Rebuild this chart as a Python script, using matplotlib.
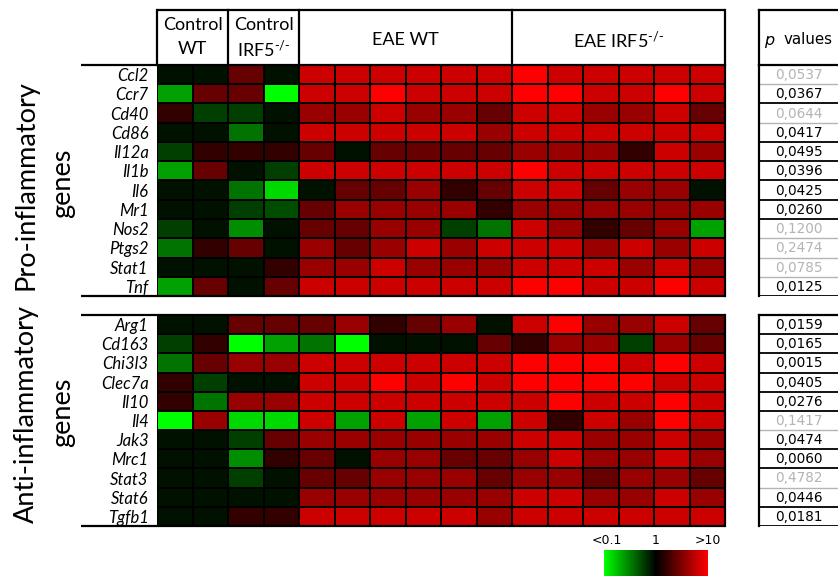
import numpy as np
import matplotlib
matplotlib.use("Agg")
import matplotlib.pyplot as plt
from matplotlib.colors import LinearSegmentedColormap

W, H = 838, 576

# ---- data: log10 fold change relative to control WT mean ----
groups = ["Control\nWT", "Control\nIRF5$^{\\text{-/-}}$", "EAE WT", "EAE IRF5$^{\\text{-/-}}$"]
group_sizes = [2, 2, 6, 6]

pro_genes = ["Ccl2", "Ccr7", "Cd40", "Cd86", "Il12a", "Il1b", "Il6", "Mr1",
             "Nos2", "Ptgs2", "Stat1", "Tnf"]
pro_log10_fc = [
    [-0.07, -0.07, 0.4, -0.07, 0.8, 0.8, 0.8, 0.8, 0.8, 0.8, 1.0, 0.8, 0.8, 0.8, 0.8, 0.8],
    [-0.63, 0.4, 0.4, -1.0, 0.8, 0.8, 1.0, 0.8, 0.8, 0.8, 1.0, 1.0, 0.8, 0.8, 1.0, 0.8],
    [0.2, -0.25, -0.25, -0.07, 0.6, 0.6, 0.8, 0.6, 0.6, 0.4, 0.8, 0.8, 0.6, 0.6, 0.8, 0.4],
    [-0.07, -0.07, -0.45, -0.07, 0.8, 0.8, 0.8, 0.8, 0.8, 0.6, 0.8, 0.8, 0.8, 0.8, 0.8, 0.8],
    [-0.25, 0.2, 0.2, 0.2, 0.4, -0.07, 0.4, 0.4, 0.4, 0.4, 0.6, 0.6, 0.6, 0.2, 0.8, 0.6],
    [-0.63, 0.4, -0.07, -0.25, 0.8, 0.8, 0.8, 0.8, 0.8, 0.8, 1.0, 0.8, 0.8, 0.8, 0.8, 0.8],
    [-0.07, -0.07, -0.45, -0.85, -0.07, 0.4, 0.4, 0.6, 0.2, 0.4, 0.8, 0.8, 0.4, 0.6, 0.6, -0.07],
    [-0.07, -0.07, -0.25, -0.3, 0.4, 0.6, 0.6, 0.6, 0.6, 0.2, 0.6, 0.6, 0.6, 0.6, 0.6, 0.6],
    [-0.25, -0.07, -0.55, -0.07, 0.4, 0.4, 0.6, 0.6, -0.25, -0.45, 0.8, 0.6, 0.2, 0.4, 0.6, -0.63],
    [-0.45, 0.2, 0.4, -0.07, 0.6, 0.4, 0.6, 0.8, 0.6, 0.8, 0.8, 0.8, 0.6, 0.8, 0.6, 0.8],
    [-0.07, -0.07, -0.07, 0.2, 0.6, 0.6, 0.8, 0.6, 0.6, 0.6, 0.8, 0.8, 0.8, 0.6, 0.8, 0.6],
    [-0.63, 0.4, -0.07, 0.4, 0.8, 0.8, 0.8, 0.8, 0.8, 0.8, 1.0, 1.0, 0.8, 0.8, 1.0, 0.8],
]
pro_pvalues = [0.0537, 0.0367, 0.0644, 0.0417, 0.0495, 0.0396, 0.0425, 0.0260,
               0.1200, 0.2474, 0.0785, 0.0125]

anti_genes = ["Arg1", "Cd163", "Chi3l3", "Clec7a", "Il10", "Il4", "Jak3", "Mrc1",
              "Stat3", "Stat6", "Tgfb1"]
anti_log10_fc = [
    [-0.07, -0.07, 0.4, 0.4, 0.4, 0.6, 0.2, 0.4, 0.6, -0.07, 0.8, 1.0, 0.6, 0.6, 0.8, 0.4],
    [-0.25, 0.2, -1.0, -0.63, -0.45, -1.0, -0.07, -0.07, -0.07, 0.4, 0.2, 0.6, 0.6, -0.25, 0.6, 0.4],
    [-0.45, 0.4, 0.6, 0.6, 0.8, 0.8, 0.8, 0.8, 0.8, 0.8, 1.0, 1.0, 1.0, 0.8, 1.0, 0.8],
    [0.2, -0.25, -0.07, -0.07, 0.8, 0.8, 1.0, 0.8, 1.0, 0.8, 1.0, 1.0, 1.0, 1.0, 0.8, 0.8],
    [0.2, -0.45, 0.6, 0.6, 0.8, 0.8, 0.8, 0.8, 0.8, 0.8, 0.8, 1.0, 0.8, 0.8, 1.0, 0.8],
    [-1.0, 0.6, -0.85, -0.85, 0.8, -0.63, 0.8, -0.63, 0.8, -0.63, 0.8, 0.2, 0.8, 0.6, 1.0, 0.8],
    [-0.07, -0.07, -0.25, 0.4, 0.6, 0.6, 0.6, 0.6, 0.6, 0.6, 0.8, 0.8, 0.6, 0.6, 0.8, 0.6],
    [-0.07, -0.07, -0.55, 0.2, 0.4, -0.07, 0.6, 0.6, 0.4, 0.4, 0.6, 0.8, 0.6, 0.6, 0.8, 0.6],
    [-0.07, -0.07, -0.25, -0.07, 0.4, 0.4, 0.6, 0.6, 0.6, 0.4, 0.6, 0.6, 0.4, 0.6, 0.6, 0.4],
    [-0.07, -0.07, -0.07, -0.07, 0.6, 0.6, 0.6, 0.6, 0.6, 0.6, 0.8, 0.8, 0.6, 0.6, 0.8, 0.6],
    [-0.07, -0.07, 0.2, 0.2, 0.8, 0.8, 0.8, 0.8, 0.8, 0.6, 0.8, 0.8, 0.8, 0.8, 0.8, 0.8],
]
anti_pvalues = [0.0159, 0.0165, 0.0015, 0.0405, 0.0276, 0.1417, 0.0474, 0.0060,
                0.4782, 0.0446, 0.0181]

colorbar_labels = ["<0.1", "1", ">10"]

# ---- styling ----
plt.rcParams["font.family"] = ["Lato", "DejaVu Sans"]
plt.rcParams["mathtext.fontset"] = "custom"
plt.rcParams["mathtext.rm"] = "Lato"
plt.rcParams["mathtext.it"] = "Lato:italic"
cmap = LinearSegmentedColormap.from_list(
    "green_black_red", [(0.0, "#00ff00"), (0.5, "#000000"), (1.0, "#ff0000")])
GRAY = "#b4b4b4"
LW = 1.6

fig = plt.figure(figsize=(W / 100, H / 100), dpi=100)


def box(x0, y0, x1, y1):
    return [x0 / W, 1 - y1 / H, (x1 - x0) / W, (y1 - y0) / H]


frame = fig.add_axes([0, 0, 1, 1], zorder=10)
frame.set_xlim(0, W)
frame.set_ylim(H, 0)
frame.axis("off")
frame.patch.set_alpha(0)

HX0, HX1 = 157, 725
PX0, PX1 = 759, 845
blocks = [
    (pro_genes, pro_log10_fc, pro_pvalues, 65, 296, "Pro-inflammatory", 185),
    (anti_genes, anti_log10_fc, anti_pvalues, 315, 526, "Anti-inflammatory", 414),
]

for genes, vals, pvals, y0, y1, title, ymid in blocks:
    data = np.array(vals)
    n = len(genes)
    ax = fig.add_axes(box(HX0, y0, HX1, y1))
    ax.pcolormesh(data, cmap=cmap, vmin=-1, vmax=1,
                  edgecolors="black", linewidth=1.1)
    ax.set_xlim(0, data.shape[1])
    ax.set_ylim(n, 0)
    for s in ax.spines.values():
        s.set_visible(False)
    ax.set_xticks([])
    ax.set_yticks(np.arange(n) + 0.5)
    ax.set_yticklabels(genes, fontstyle="italic", fontsize=12)
    ax.tick_params(axis="y", length=0, pad=6)

    # outer frame of the block
    frame.plot([81, HX1], [y0, y0], color="black", lw=LW, solid_capstyle="butt")
    frame.plot([81, HX1], [y1, y1], color="black", lw=LW, solid_capstyle="butt")
    frame.plot([HX1, HX1], [y0, y1], color="black", lw=LW)

    # p-value column
    axp = fig.add_axes(box(PX0, y0, PX1, y1))
    axp.set_xlim(0, 1)
    axp.set_ylim(n, 0)
    axp.axis("off")
    for i, p in enumerate(pvals):
        c = "black" if p < 0.05 else GRAY
        axp.text(0.46, i + 0.52, f"{p:.4f}".replace(".", ","), color=c,
                 ha="center", va="center", fontsize=9.8, family="DejaVu Sans")
        axp.plot([0, 1], [i + 1, i + 1], color=c, lw=1.3 if c == "black" else 1.0,
                 solid_capstyle="butt")
    frame.plot([PX0, PX0], [y0, y1], color="black", lw=LW)
    frame.plot([PX0, W], [y0, y0], color="black", lw=LW)

    # block title
    frame.text(26, ymid, title, rotation=90, ha="center", va="center", fontsize=19.5)
    frame.text(63, ymid - 2, "genes", rotation=90, ha="center", va="center", fontsize=19.5)

# ---- column group header ----
bounds = [HX0]
for g in group_sizes:
    bounds.append(bounds[-1] + g * (HX1 - HX0) / sum(group_sizes))
frame.plot([HX0, HX1], [10, 10], color="black", lw=LW, solid_capstyle="butt")
for b in bounds:
    frame.plot([b, b], [10, 65], color="black", lw=LW)
for k, name in enumerate(groups):
    cx = (bounds[k] + bounds[k + 1]) / 2
    if "\n" in name:
        top, bottom = name.split("\n")
        frame.text(cx, 25, top, ha="center", va="center", fontsize=13)
        frame.text(cx, 49, bottom, ha="center", va="center", fontsize=13)
    else:
        frame.text(cx, 40, name, ha="center", va="center", fontsize=13)

# p-value header
frame.plot([PX0, PX0], [10, 65], color="black", lw=LW)
frame.plot([PX0, W], [10, 10], color="black", lw=LW)
frame.text(764, 40, "p", ha="left", va="center", fontsize=11.5, fontstyle="italic",
           family="DejaVu Sans")
frame.text(784, 40, "values", ha="left", va="center", fontsize=10.8,
           family="DejaVu Sans")

# ---- colour scale ----
axc = fig.add_axes(box(604, 550, 708, 576))
axc.imshow(np.linspace(-1, 1, 256)[None, :], cmap=cmap, aspect="auto",
           extent=(-1, 1, 0, 1), interpolation="bilinear")
axc.axis("off")
for v, lab in zip([-0.95, 0.0, 1.0], colorbar_labels):
    x = 604 + (v + 1) / 2 * 104
    frame.text(x, 541, lab, ha="center", va="center", fontsize=9,
               family="DejaVu Sans")

fig.savefig("out.png", dpi=100)
